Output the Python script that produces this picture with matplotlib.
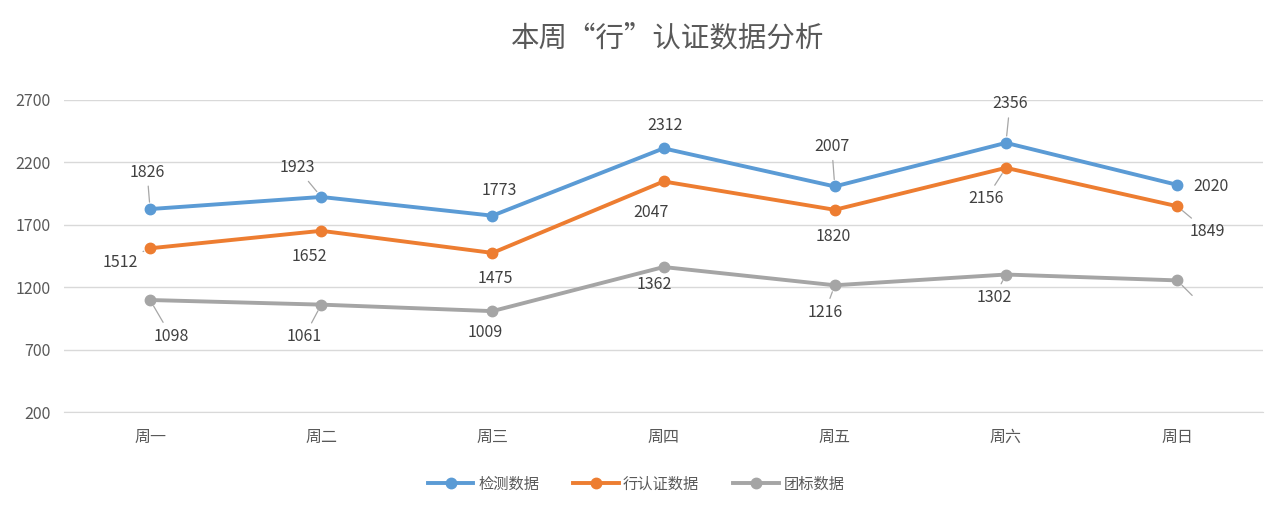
import matplotlib.pyplot as plt

plt.rcParams['font.family'] = ['Noto Sans CJK SC', 'DejaVu Sans']

days = ['周一', '周二', '周三', '周四', '周五', '周六', '周日']
detect = [1826, 1923, 1773, 2312, 2007, 2356, 2020]
xing = [1512, 1652, 1475, 2047, 1820, 2156, 1849]
tuanbiao = [1098, 1061, 1009, 1362, 1216, 1302, 1255]
yticks = [200, 700, 1200, 1700, 2200, 2700]

# label offsets in pixels (dx, dy up), leader line flag
detect_off = [(-3, 37, 1), (-24, 29, 1), (7, 25, 0), (1, 23, 0), (-3, 40, 1), (4, 39, 1), (34, -2, 0)]
xing_off = [(-30, -14, 1), (-12, -26, 0), (3, -26, 0), (-13, -31, 0), (-2, -27, 0), (-20, -31, 1), (30, -25, 1)]
tuan_off = [(21, -36, 1), (-17, -32, 1), (-7, -21, 0), (-9, -17, 0), (-10, -27, 1), (-12, -23, 1), (17, -17, 1)]
show_tuan = [True] * 6 + [False]

fig = plt.figure(figsize=(12.72, 5.07), dpi=100)
ax = fig.add_axes([0.0507, 0.187, 0.942, 0.616])

series = [
    ('检测数据', detect, '#5B9BD5', detect_off, [True] * 7),
    ('行认证数据', xing, '#ED7D31', xing_off, [True] * 7),
    ('团标数据', tuanbiao, '#A5A5A5', tuan_off, show_tuan),
]
x = list(range(len(days)))
for name, vals, col, offs, show in series:
    ax.plot(x, vals, color=col, lw=2.8, marker='o', ms=7.5, label=name, zorder=3)
    for i, v in enumerate(vals):
        dx, dy, lead = offs[i]
        txt = str(v) if show[i] else ''
        props = dict(arrowstyle='-', color='#A6A6A6', lw=0.9, shrinkA=2, shrinkB=5) if lead else None
        ax.annotate(txt, (i, v), xytext=(dx * 0.72, dy * 0.72), textcoords='offset points',
                    ha='center', va='center', fontsize=11.5, color='#404040',
                    arrowprops=props, zorder=4)

ax.set_xlim(-0.5, 6.5)
ax.set_ylim(200, 2700)
ax.set_yticks(yticks)
ax.set_xticks(x)
ax.set_xticklabels(days)
ax.grid(axis='y', color='#D9D9D9', lw=1)
ax.set_axisbelow(True)
for s in ['top', 'right', 'left']:
    ax.spines[s].set_visible(False)
ax.spines['bottom'].set_color('#D9D9D9')
ax.tick_params(axis='both', length=0, labelsize=11.5, colors='#595959')
ax.tick_params(axis='x', pad=12)
ax.tick_params(axis='y', pad=10)

fig.text(0.525, 0.925, '本周“行”认证数据分析', ha='center', va='center', fontsize=20.5, color='#595959')
fig.legend(loc='center', bbox_to_anchor=(0.5, 0.045), ncol=3, frameon=False, fontsize=11,
           labelcolor='#595959', handlelength=3, columnspacing=2.2, handletextpad=0.3)

fig.savefig('out.png', dpi=100)
